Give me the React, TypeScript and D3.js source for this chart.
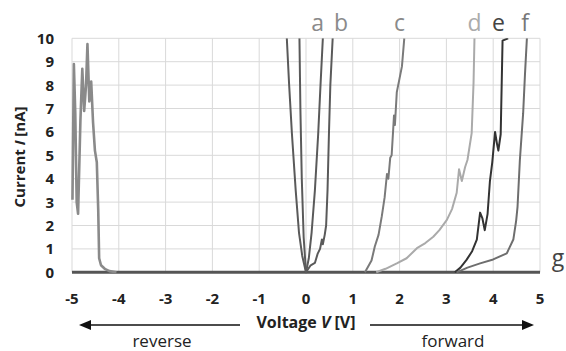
import { useEffect, useRef } from 'react'
import * as d3 from 'd3'

type Pt = [number, number]

// voltage [V], current [nA]
const reverseCurve: Pt[] = [
  [-4.99, 3.1], [-4.96, 8.9], [-4.93, 6.8], [-4.9, 3.0], [-4.87, 2.5], [-4.82, 6.5],
  [-4.78, 8.7], [-4.74, 6.9], [-4.7, 8.0], [-4.67, 9.75], [-4.63, 7.3], [-4.59, 8.15],
  [-4.55, 6.4], [-4.51, 5.2], [-4.47, 4.7], [-4.44, 2.7], [-4.42, 0.6], [-4.38, 0.3],
  [-4.3, 0.15], [-4.2, 0.05], [-4.05, 0.0],
]
const curveA: Pt[] = [
  [-0.41, 10], [-0.36, 8], [-0.3, 5.9], [-0.22, 3.5], [-0.15, 1.7], [-0.08, 0.7], [0.0, 0],
  [0.06, 0.6], [0.12, 1.7], [0.19, 3.5], [0.26, 5.9], [0.31, 8], [0.36, 10],
]
const curveB: Pt[] = [
  [-0.14, 10], [-0.12, 7], [-0.09, 4], [-0.05, 1.5], [0.0, 0], [0.1, 0.3], [0.19, 0.4],
  [0.25, 0.8], [0.3, 1.0], [0.34, 1.4], [0.36, 1.2], [0.4, 1.6], [0.43, 2.0], [0.46, 3.5],
  [0.49, 5.9], [0.52, 8], [0.57, 10],
]
const curveC: Pt[] = [
  [1.26, 0], [1.4, 0.5], [1.47, 1.1], [1.55, 1.6], [1.62, 2.4], [1.68, 3.2], [1.73, 4.2],
  [1.76, 4.0], [1.8, 4.9], [1.83, 5.0], [1.86, 6.0], [1.88, 6.7], [1.9, 6.3], [1.94, 7.7],
  [2.0, 8.3], [2.05, 8.8], [2.1, 10],
]
const curveD: Pt[] = [
  [1.5, 0], [1.7, 0.15], [1.94, 0.38], [2.15, 0.6], [2.37, 1.03], [2.55, 1.25], [2.72, 1.52],
  [2.85, 1.8], [3.01, 2.24], [3.12, 2.7], [3.22, 3.4], [3.27, 4.4], [3.33, 3.9], [3.4, 4.5],
  [3.45, 4.8], [3.54, 5.95], [3.58, 8.1], [3.6, 10],
]
const curveE: Pt[] = [
  [3.18, 0], [3.3, 0.2], [3.43, 0.53], [3.55, 0.9], [3.65, 1.4], [3.72, 2.55], [3.77, 2.3],
  [3.82, 1.8], [3.88, 2.5], [3.93, 3.9], [3.98, 4.7], [4.04, 6.0], [4.08, 5.5], [4.11, 5.2],
  [4.16, 5.9], [4.2, 9.9], [4.32, 10],
]
const curveF: Pt[] = [
  [3.22, 0], [3.45, 0.2], [3.72, 0.38], [4.0, 0.55], [4.29, 0.81], [4.43, 1.4], [4.49, 2.2],
  [4.52, 2.8], [4.57, 4.8], [4.64, 6.8], [4.68, 8.5], [4.72, 10],
]
const curveG: Pt[] = [[-5, 0], [5, 0]]

const xTicks = [-5, -4, -3, -2, -1, 0, 1, 2, 3, 4, 5]
const yTicks = [0, 1, 2, 3, 4, 5, 6, 7, 8, 9, 10]

const series = [
  { data: curveG, color: '#555', width: 3 },
  { data: reverseCurve, color: '#8a8a8a', width: 2.6 },
  { data: curveA, color: '#5a5a5a', width: 2 },
  { data: curveB, color: '#5a5a5a', width: 2 },
  { data: curveC, color: '#7a7a7a', width: 2 },
  { data: curveD, color: '#aaaaaa', width: 2 },
  { data: curveE, color: '#333333', width: 2 },
  { data: curveF, color: '#6e6e6e', width: 2 },
]

const curveLabels = [
  { t: 'a', v: 0.25, c: '#8a8a8a' },
  { t: 'b', v: 0.75, c: '#8a8a8a' },
  { t: 'c', v: 2.0, c: '#8a8a8a' },
  { t: 'd', v: 3.6, c: '#ababab' },
  { t: 'e', v: 4.11, c: '#444' },
  { t: 'f', v: 4.68, c: '#777' },
]

export default function App() {
  const svgRef = useRef<SVGSVGElement>(null)

  useEffect(() => {
    if (!svgRef.current) return
    const svg = d3.select(svgRef.current)
    svg.selectAll('*').remove()

    const font = '"Open Sans", "Liberation Sans", sans-serif'
    const x = d3.scaleLinear().domain([-5, 5]).range([72, 540])
    const y = d3.scaleLinear().domain([0, 10]).range([272.3, 38.3])

    // grid
    const grid = svg.append('g').attr('stroke', '#d9d9d9').attr('stroke-width', 1)
    yTicks.forEach(t => {
      grid.append('line').attr('x1', x(-5)).attr('x2', x(5)).attr('y1', y(t)).attr('y2', y(t))
    })
    xTicks.forEach(t => {
      grid.append('line').attr('x1', x(t)).attr('x2', x(t)).attr('y1', y(0)).attr('y2', y(10))
    })

    // tick labels
    yTicks.forEach(t => {
      svg.append('text')
        .attr('x', 54).attr('y', y(t) + 5.5)
        .attr('text-anchor', 'end')
        .attr('font-family', font).attr('font-weight', 'bold').attr('font-size', 15)
        .attr('fill', '#222')
        .text(t)
    })
    xTicks.forEach(t => {
      svg.append('text')
        .attr('x', x(t)).attr('y', 304)
        .attr('text-anchor', 'middle')
        .attr('font-family', font).attr('font-weight', 'bold').attr('font-size', 15)
        .attr('fill', '#222')
        .text(t)
    })

    // curves
    svg.append('defs').append('clipPath').attr('id', 'plot-clip')
      .append('rect').attr('x', x(-5) - 2).attr('y', y(10)).attr('width', x(5) - x(-5) + 4).attr('height', y(0) - y(10) + 3)

    const line = d3.line<Pt>().x(d => x(d[0])).y(d => y(d[1]))
    const curves = svg.append('g').attr('clip-path', 'url(#plot-clip)')
    series.forEach(s => {
      curves.append('path')
        .datum(s.data)
        .attr('fill', 'none')
        .attr('stroke', s.color)
        .attr('stroke-width', s.width)
        .attr('stroke-linejoin', 'round')
        .attr('d', line)
    })

    // curve letters
    curveLabels.forEach(l => {
      svg.append('text')
        .attr('x', x(l.v)).attr('y', 31)
        .attr('text-anchor', 'middle')
        .attr('font-family', font).attr('font-size', 23)
        .attr('fill', l.c)
        .text(l.t)
    })
    svg.append('text')
      .attr('x', 558).attr('y', 266)
      .attr('text-anchor', 'middle')
      .attr('font-family', font).attr('font-size', 23)
      .attr('fill', '#444')
      .text('g')

    // y title
    const yTitle = svg.append('text')
      .attr('transform', 'translate(25,157) rotate(-90)')
      .attr('text-anchor', 'middle')
      .attr('font-family', font).attr('font-weight', 'bold').attr('font-size', 15)
      .attr('fill', '#222')
    yTitle.append('tspan').text('Current ')
    yTitle.append('tspan').attr('font-style', 'italic').text('I')
    yTitle.append('tspan').text(' [nA]')

    // x title
    const xTitle = svg.append('text')
      .attr('x', 306).attr('y', 328)
      .attr('text-anchor', 'middle')
      .attr('font-family', font).attr('font-weight', 'bold').attr('font-size', 16)
      .attr('fill', '#222')
    xTitle.append('tspan').text('Voltage ')
    xTitle.append('tspan').attr('font-style', 'italic').text('V')
    xTitle.append('tspan').text(' [V]')

    // arrows
    const ay = 325
    svg.append('line').attr('x1', 88).attr('x2', 240).attr('y1', ay).attr('y2', ay)
      .attr('stroke', '#111').attr('stroke-width', 1.5)
    svg.append('path').attr('d', `M79,${ay} L91,${ay - 5} L91,${ay + 5} Z`).attr('fill', '#111')
    svg.append('line').attr('x1', 370).attr('x2', 525).attr('y1', ay).attr('y2', ay)
      .attr('stroke', '#111').attr('stroke-width', 1.5)
    svg.append('path').attr('d', `M534,${ay} L522,${ay - 5} L522,${ay + 5} Z`).attr('fill', '#111')

    svg.append('text')
      .attr('x', 162).attr('y', 347)
      .attr('text-anchor', 'middle')
      .attr('font-family', font).attr('font-size', 17)
      .attr('fill', '#222')
      .text('reverse')
    svg.append('text')
      .attr('x', 453).attr('y', 347)
      .attr('text-anchor', 'middle')
      .attr('font-family', font).attr('font-size', 17)
      .attr('fill', '#222')
      .text('forward')
  }, [])

  return (
    <svg
      ref={svgRef}
      width={566}
      height={351}
      style={{ position: 'absolute', left: 0, top: 0, background: '#fff' }}
    />
  )
}
